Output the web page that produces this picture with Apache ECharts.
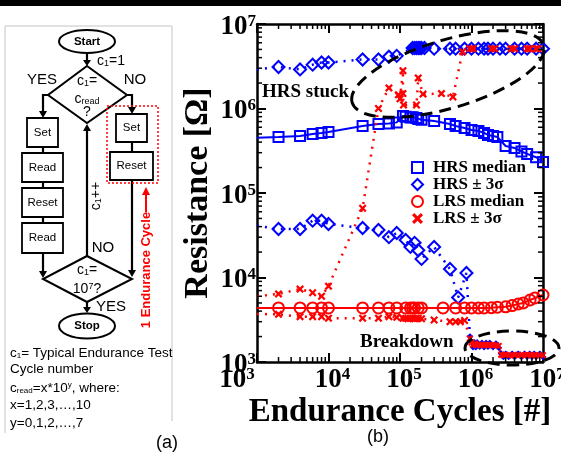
<!DOCTYPE html>
<html><head><meta charset="utf-8">
<script src="https://cdn.jsdelivr.net/npm/echarts@6/dist/echarts.min.js"></script>
<style>html,body{margin:0;padding:0;background:#fff}#c{width:561px;height:457px}</style>
</head><body><div id="c"></div>
<script>
// ---------------- data ----------------
const xTickExp = ['3', '4', '5', '6', '7'];
const yTickExp = ['3', '4', '5', '6', '7'];

const hrsMedX = [1000, 2000, 4000, 6000, 8000, 10000, 30000, 50000, 70000, 90000, 110000, 120000, 140000, 150000, 170000, 180000, 200000, 300000, 500000, 600000, 800000, 1000000, 1250000, 1500000, 1700000, 2000000, 2300000, 3000000, 4000000, 5000000, 6000000, 8000000, 10000000];
const hrsMedY = [450000, 460000, 473000, 499000, 513000, 527000, 621000, 656000, 665000, 685000, 815000, 800000, 780000, 790000, 770000, 752000, 735000, 711000, 656000, 621000, 588000, 557000, 542000, 514000, 486000, 473000, 460000, 360000, 341000, 310000, 290000, 265000, 233000];

const hrsUpX = [1000, 2000, 4000, 6000, 8000, 10000, 30000, 50000, 70000, 90000, 150000, 160000, 170000, 180000, 190000, 200000, 220000, 300000, 500000, 600000, 800000, 1000000, 1250000, 1500000, 1700000, 2000000, 2500000, 3000000, 4000000, 5000000, 6000000, 8000000, 10000000];
const hrsUpY = [2900000, 3100000, 2900000, 3300000, 3500000, 3500000, 3800000, 3800000, 4100000, 4200000, 5200000, 5200000, 5200000, 5200000, 5200000, 5200000, 5200000, 5100000, 5100000, 5100000, 5100000, 5100000, 5100000, 5100000, 5100000, 5100000, 5100000, 5100000, 5100000, 5100000, 5100000, 5100000, 5100000];

const hrsLoX = [1000, 2000, 4000, 6000, 8000, 10000, 30000, 50000, 70000, 90000, 120000, 140000, 160000, 180000, 200000, 300000, 500000, 650000, 850000];
const hrsLoY = [41000, 37500, 37500, 47000, 47000, 43000, 38500, 36500, 30000, 33600, 27800, 23000, 25700, 21000, 16600, 23000, 12600, 5800, 11300];

const lrsMedX = [1000, 2000, 4000, 6000, 8000, 10000, 30000, 50000, 70000, 90000, 120000, 140000, 150000, 160000, 180000, 200000, 400000, 600000, 800000, 1000000, 1250000, 1500000, 1900000, 2300000, 3000000, 3700000, 4500000, 5300000, 6600000, 7700000, 10000000];
const lrsMedY = [4360, 4360, 4360, 4360, 4360, 4360, 4360, 4360, 4360, 4360, 4360, 4360, 4360, 4360, 4360, 4360, 4360, 4360, 4360, 4360, 4360, 4360, 4400, 4450, 4500, 4650, 4860, 5000, 5420, 5720, 6210];

const lrsUpX = [1000, 2000, 4000, 6000, 8000, 10000, 30000, 50000, 70000, 95000, 100000, 110000, 110000, 112000, 170000, 180000, 210000, 380000, 550000, 750000, 950000, 1050000, 1900000, 2100000, 3600000, 4000000, 6000000, 6500000, 8000000, 8500000];
const lrsUpY = [6000, 6400, 7300, 6600, 6000, 7900, 66000, 1000000, 1750000, 1450000, 1300000, 2800000, 1500000, 1100000, 1100000, 2300000, 1480000, 1500000, 1370000, 4700000, 5100000, 5100000, 5100000, 5100000, 5100000, 5100000, 5100000, 5100000, 5100000, 5100000];

const lrsLoX = [1000, 2000, 4000, 6000, 8000, 10000, 30000, 50000, 70000, 90000, 110000, 120000, 130000, 140000, 150000, 160000, 170000, 180000, 200000, 300000, 500000, 600000, 700000, 800000];
const lrsLoY = [3700, 3670, 3440, 3440, 3440, 3300, 3300, 3300, 3440, 3380, 3290, 3290, 3250, 3290, 3290, 3250, 3290, 3290, 3250, 3140, 3000, 3000, 3000, 3100];

// breakdown region (after ~1e6 cycles)
const bdX = [950000, 1000000, 1050000, 1100000, 1150000, 1200000, 1300000, 1400000, 1500000, 1600000, 1700000, 1800000, 2000000, 2200000, 2400000, 2600000, 2800000, 3000000, 3300000, 3700000, 4000000, 4500000, 5000000, 5500000, 6000000, 6500000, 7000000, 7500000, 8000000, 9000000, 10000000];
const bdHrsY = [2000, 1750, 1500, 1700, 1500, 1700, 1520, 1680, 1500, 1680, 1520, 1680, 1500, 1650, 1480, 1250, 1150, 1250, 1150, 1250, 1150, 1250, 1150, 1250, 1150, 1250, 1150, 1250, 1150, 1250, 1150];
const bdLrsY = [1900, 1700, 1600, 1650, 1600, 1580, 1600, 1600, 1580, 1600, 1580, 1600, 1580, 1580, 1550, 1220, 1200, 1220, 1200, 1200, 1200, 1220, 1200, 1200, 1220, 1200, 1200, 1200, 1200, 1200, 1200];

// ---------------- styling ----------------
const BLUE = '#0000ff', RED = '#ff0000';
const SERIF = 'Liberation Serif', SANS = 'Liberation Sans';
const CROSS = 'path://M2,0L5,3L8,0L10,2L7,5L10,8L8,10L5,7L2,10L0,8L3,5L0,2Z';
const HOLLOW = 'rgba(0,0,0,0)';

function pts(xs, ys) {
  return xs.map((x, i) => i === 0 ? { value: [x, ys[i]], symbol: 'none' } : [x, ys[i]]);
}
function withBreakdown(xs, ys, bx, by, color) {
  return pts(xs, ys).concat(bx.map((x, i) => ({ value: [x, by[i]], itemStyle: { color: color } })));
}
function expIndex(v) { return Math.round(Math.log10(v)) - 3; }
function xLabel(v) {
  const i = expIndex(v), e = xTickExp[i];
  if (e === undefined) return '';
  return '{b|10}{s|' + e + '}' + (i === 0 ? '{q|}' : '');
}
function yLabel(v) {
  const e = yTickExp[expIndex(v)];
  return e === undefined ? '' : '{b|10}{s|' + e + '}';
}

const tickRich = {
  b: { fontFamily: SERIF, fontWeight: 'bold', fontSize: 27, lineHeight: 28, color: '#000' },
  s: { fontFamily: SERIF, fontWeight: 'bold', fontSize: 17, lineHeight: 12, verticalAlign: 'top', color: '#000' },
  q: { width: 48 }
};
const axisLineStyle = { color: '#000', width: 2.5 };
const tickStyle = { inside: true, length: 9, lineStyle: { color: '#000', width: 2 } };

const chart = echarts.init(document.getElementById('c'), null, { renderer: 'canvas' });

const option = {
  animation: false,
  backgroundColor: '#fff',
  grid: { left: 257, top: 24, width: 286, height: 338, outerBoundsMode: 'none', containLabel: false },
  xAxis: [
    {
      type: 'log', min: 1000, max: 10000000, position: 'bottom',
      axisLine: { lineStyle: axisLineStyle }, axisTick: tickStyle, splitLine: { show: false },
      axisLabel: { margin: 4, padding: [0, 0, 0, 8], formatter: xLabel, rich: tickRich },
      name: 'Endurance Cycles [#]', nameLocation: 'middle', nameGap: 34, nameMoveOverlap: false,
      nameTextStyle: { fontFamily: SERIF, fontWeight: 'bold', fontSize: 33, color: '#000' }
    },
    {
      type: 'log', min: 1000, max: 10000000, position: 'top',
      axisLine: { lineStyle: axisLineStyle }, axisTick: tickStyle, splitLine: { show: false },
      axisLabel: { show: false }
    }
  ],
  yAxis: [
    {
      type: 'log', min: 1000, max: 10000000, position: 'left',
      axisLine: { lineStyle: axisLineStyle }, axisTick: tickStyle, splitLine: { show: false },
      axisLabel: { margin: 1, padding: [6, 0, 0, 0], formatter: yLabel, rich: tickRich },
      name: 'Resistance [Ω]', nameLocation: 'middle', nameGap: 42, nameRotate: 90, nameMoveOverlap: false,
      nameTextStyle: { fontFamily: SERIF, fontWeight: 'bold', fontSize: 34, color: '#000' }
    },
    {
      type: 'log', min: 1000, max: 10000000, position: 'right',
      axisLine: { lineStyle: axisLineStyle }, axisTick: tickStyle, splitLine: { show: false },
      axisLabel: { show: false }
    }
  ],
  legend: {
    orient: 'vertical', left: 406, top: 154, itemWidth: 11, itemHeight: 11, itemGap: 0,
    selectedMode: false,
    textStyle: { fontFamily: SERIF, fontWeight: 'bold', fontSize: 17, color: '#000', lineHeight: 17, padding: [0, 0, 0, 5] },
    data: [
      { name: 'HRS median', icon: 'rect' },
      { name: 'HRS ± 3σ', icon: 'diamond' },
      { name: 'LRS median', icon: 'circle' },
      { name: 'LRS ± 3σ', icon: CROSS, itemStyle: { color: RED, borderWidth: 0 } }
    ]
  },
  series: [
    {
      name: 'HRS median', type: 'line', data: pts(hrsMedX, hrsMedY),
      symbol: 'rect', symbolSize: 10,
      lineStyle: { color: BLUE, width: 2 },
      itemStyle: { color: HOLLOW, borderColor: BLUE, borderWidth: 2 }
    },
    {
      name: 'HRS ± 3σ', type: 'line', data: pts(hrsUpX, hrsUpY),
      symbol: 'diamond', symbolSize: 12,
      lineStyle: { color: BLUE, width: 2.5, type: [2, 6] },
      itemStyle: { color: HOLLOW, borderColor: BLUE, borderWidth: 2 }
    },
    {
      name: 'HRS ± 3σ', type: 'line', data: withBreakdown(hrsLoX, hrsLoY, bdX, bdHrsY, BLUE),
      symbol: 'diamond', symbolSize: (v, p) => p.dataIndex >= hrsLoX.length ? 4 : 12,
      lineStyle: { color: BLUE, width: 2.5, type: [2, 6] },
      itemStyle: { color: HOLLOW, borderColor: BLUE, borderWidth: 2 }
    },
    {
      name: 'LRS median', type: 'line', data: pts(lrsMedX, lrsMedY),
      symbol: 'circle', symbolSize: 11,
      lineStyle: { color: RED, width: 2 },
      itemStyle: { color: HOLLOW, borderColor: RED, borderWidth: 2 }
    },
    {
      name: 'LRS ± 3σ', type: 'line', data: pts(lrsUpX, lrsUpY),
      symbol: CROSS, symbolSize: 8,
      lineStyle: { color: RED, width: 2.5, type: [2, 6] },
      itemStyle: { color: RED, borderWidth: 0 }
    },
    {
      name: 'LRS ± 3σ', type: 'line', data: withBreakdown(lrsLoX, lrsLoY, bdX, bdLrsY, RED),
      symbol: CROSS, symbolSize: (v, p) => p.dataIndex >= lrsLoX.length ? 7 : 8,
      lineStyle: { color: RED, width: 2.5, type: [2, 6] },
      itemStyle: { color: RED, borderWidth: 0 }
    }
  ]
};
chart.setOption(option);

// ---------------- graphic: flowchart, annotations, minor ticks ----------------
const G = [];
const L = (p, o = {}) => G.push({ type: 'polyline', shape: { points: p }, style: { stroke: o.c || '#000', lineWidth: o.w || 2.2, fill: 'none', lineDash: o.dash || null }, z: o.z || 50 });
const P = (p, c) => G.push({ type: 'polygon', shape: { points: p }, style: { fill: c || '#000', stroke: 'none' }, z: 51 });
const R = (x, y, w, h, o = {}) => G.push({ type: 'rect', shape: { x: x, y: y, width: w, height: h }, style: { fill: o.fill || '#fff', stroke: o.c === undefined ? '#000' : o.c, lineWidth: o.w || 1.8, lineDash: o.dash || null }, z: o.z || 49 });
const E = (cx, cy, rx, ry, o = {}) => G.push({ type: 'ellipse', x: cx, y: cy, rotation: o.rot || 0, shape: { cx: 0, cy: 0, rx: rx, ry: ry }, style: { fill: o.fill || 'none', stroke: '#000', lineWidth: o.w || 2, lineDash: o.dash || null }, z: o.z || 49 });
function richSet(size, bold, fam) {
  const f = fam || SANS, w = bold ? 'bold' : 'normal';
  return {
    a: { fontFamily: f, fontSize: size, fontWeight: w },
    s: { fontFamily: f, fontSize: Math.round(size * 0.62), fontWeight: w, verticalAlign: 'bottom', lineHeight: size * 0.9 },
    p: { fontFamily: f, fontSize: Math.round(size * 0.62), fontWeight: w, verticalAlign: 'top', lineHeight: size * 0.7 }
  };
}
const T = (x, y, text, o = {}) => G.push({
  type: 'text', x: x, y: y, rotation: o.rot || 0, z: 60,
  style: {
    text: text, fill: o.c || '#000', fontFamily: o.fam || SANS, fontSize: o.size || 13,
    fontWeight: o.bold ? 'bold' : 'normal', align: o.align || 'center', verticalAlign: 'middle',
    rich: o.rich ? richSet(o.size || 13, o.bold, o.fam) : undefined
  }
});

// header bar and panel frame
R(0, 0, 561, 6, { fill: '#000', c: 'none', z: 40 });
L([[5, 433], [5, 26], [172, 26], [172, 421]], { c: '#c4c4c4', w: 1, z: 40 });

// Start
E(87, 41.5, 28, 11.5, { fill: '#fff' });
T(87, 42, 'Start', { bold: true, size: 11.5 });
L([[87, 53], [87, 61]]); P([[83, 60], [91, 60], [87, 66]]);
T(97, 61, '{a|c}{s|1}{a|=1}', { rich: true, size: 14, align: 'left' });

// decision 1
G.push({ type: 'polygon', shape: { points: [[87, 66], [127, 95], [87, 123], [48, 95]] }, style: { fill: '#fff', stroke: '#000', lineWidth: 2 }, z: 49 });
T(87, 81, '{a|c}{s|1}{a|=}', { rich: true, size: 14 });
T(87, 99, '{a|c}{s|read}', { rich: true, size: 14 });
T(87, 112, '?', { size: 14 });
T(42, 80, 'YES', { size: 15 });
T(135, 80, 'NO', { size: 15 });

// branches
L([[48, 95], [43, 95], [43, 112]]); P([[39, 111], [47, 111], [43, 118]]);
L([[127, 95], [132, 95], [132, 108]]); P([[128, 107], [136, 107], [132, 114]]);

// left column
R(27, 118, 31, 29); T(42.5, 132.5, 'Set', { size: 11.5 });
L([[43, 147], [43, 153]]);
R(22, 153, 41, 29); T(42.5, 167.5, 'Read', { size: 11.5 });
L([[43, 182], [43, 188]]);
R(22, 188, 41, 29); T(42.5, 202.5, 'Reset', { size: 11.5 });
L([[43, 217], [43, 223]]);
R(22, 223, 41, 30); T(42.5, 238, 'Read', { size: 11.5 });
L([[43, 253], [43, 272]]); P([[39, 271], [47, 271], [43, 278]]);

// right column
R(116, 114, 31, 28); T(131.5, 128, 'Set', { size: 11.5 });
L([[132, 142], [132, 152]]);
R(110, 152, 43, 28); T(131.5, 166, 'Reset', { size: 11.5 });
L([[132, 180], [132, 271]]); P([[128, 270], [136, 270], [132, 277]]);
R(107, 106, 51, 77, { fill: 'none', c: RED, w: 1.5, dash: [2, 2], z: 52 });
L([[146, 212], [146, 193]], { c: RED, w: 2 }); P([[142, 195], [150, 195], [146, 187]], RED);
T(146.5, 270, '1 Endurance Cycle', { rot: Math.PI / 2, c: RED, bold: true, size: 13 });

// decision 2
G.push({ type: 'polygon', shape: { points: [[87, 256], [132, 279], [87, 302], [43, 279]] }, style: { fill: '#fff', stroke: '#000', lineWidth: 2 }, z: 49 });
T(87, 270, '{a|c}{s|1}{a|=}', { rich: true, size: 14 });
T(87, 289, '{a|10}{p|7}{a|?}', { rich: true, size: 14 });
L([[87, 256], [87, 130]]); P([[83, 131], [91, 131], [87, 124]]);
T(96, 196, '{a|c}{s|1}{a|++}', { rich: true, size: 14, rot: Math.PI / 2 });
T(103, 248, 'NO', { size: 15 });
L([[87, 302], [87, 308]]); P([[83, 307], [91, 307], [87, 313]]);
T(111, 307, 'YES', { size: 15 });

// Stop
E(87, 326, 28, 12.5, { fill: '#fff' });
T(87, 326, 'Stop', { bold: true, size: 11.5 });

// notes
T(10, 353, '{a|c}{s|1}{a|= Typical Endurance Test}', { rich: true, size: 13.5, align: 'left' });
T(10, 369, 'Cycle number', { size: 13.5, align: 'left' });
T(10, 388, '{a|c}{s|read}{a|=x*10}{p|y}{a|, where:}', { rich: true, size: 13.5, align: 'left' });
T(10, 405, 'x=1,2,3,…,10', { size: 13.5, align: 'left' });
T(10, 423, 'y=0,1,2,…,7', { size: 13.5, align: 'left' });

// panel labels
T(167, 443, '(a)', { size: 18 });
T(378, 437, '(b)', { size: 18 });

// annotations on the plot
E(448, 74, 100, 34, { rot: 0.29, w: 3, dash: [12, 7], z: 100 });
E(512, 348, 47, 17, { w: 3, dash: [12, 7], z: 100 });
T(262, 92, 'HRS stuck', { fam: SERIF, bold: true, size: 19, align: 'left' });
T(360, 342, 'Breakdown', { fam: SERIF, bold: true, size: 19, align: 'left' });

// log minor ticks on all four sides, positioned through the axes
const gl = chart.convertToPixel({ xAxisIndex: 0 }, 1000), gr = chart.convertToPixel({ xAxisIndex: 0 }, 10000000);
const gb = chart.convertToPixel({ yAxisIndex: 0 }, 1000), gt = chart.convertToPixel({ yAxisIndex: 0 }, 10000000);
for (let d = 3; d < 7; d++) {
  for (let m = 2; m <= 9; m++) {
    const v = m * Math.pow(10, d);
    const px = chart.convertToPixel({ xAxisIndex: 0 }, v);
    const py = chart.convertToPixel({ yAxisIndex: 0 }, v);
    L([[px, gb], [px, gb - 5]], { w: 1.5, z: 45 });
    L([[px, gt], [px, gt + 5]], { w: 1.5, z: 45 });
    L([[gl, py], [gl + 5, py]], { w: 1.5, z: 45 });
    L([[gr, py], [gr - 5, py]], { w: 1.5, z: 45 });
  }
}

chart.setOption({ graphic: { elements: G } });
</script></body></html>
